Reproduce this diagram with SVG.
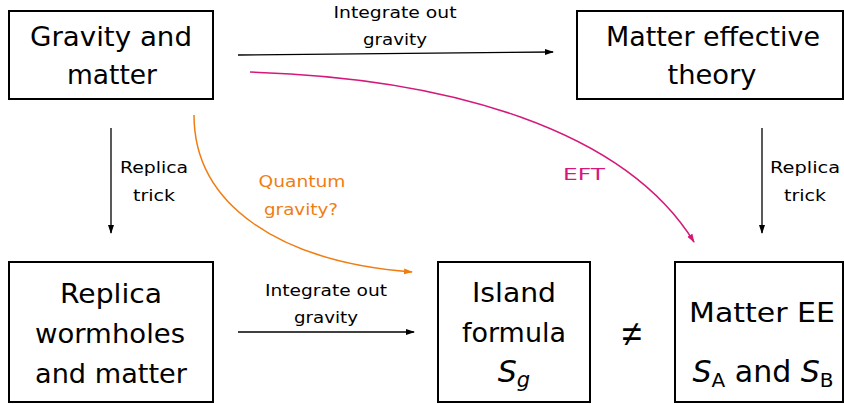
<svg xmlns="http://www.w3.org/2000/svg" width="844" height="404" viewBox="0 0 844 404" font-family="DejaVu Sans">
<style>
.box{fill:#fff;stroke:#000;stroke-width:2}
.big{fill:#000;text-anchor:middle}
.sm{fill:#000;text-anchor:middle}
.ln{fill:none;stroke:#000;stroke-width:1.3}
</style>
<defs>
<marker id="ab" markerWidth="10" markerHeight="8" refX="8" refY="4" orient="auto" markerUnits="userSpaceOnUse"><path d="M0,1 L9,4 L0,7 Z" fill="#000"/></marker>
<marker id="ao" markerWidth="10" markerHeight="8" refX="8" refY="4" orient="auto" markerUnits="userSpaceOnUse"><path d="M0,1 L9,4 L0,7 Z" fill="#f07d12"/></marker>
<marker id="ap" markerWidth="10" markerHeight="8" refX="8" refY="4" orient="auto" markerUnits="userSpaceOnUse"><path d="M0,1 L9,4 L0,7 Z" fill="#d5197a"/></marker>
</defs>
<g id="connectors" font-size="16">
<path class="ln" d="M238,55 L553,52" marker-end="url(#ab)"/>
<path class="ln" d="M111,128 L111,233" marker-end="url(#ab)"/>
<path class="ln" d="M762,128 L762,233" marker-end="url(#ab)"/>
<path class="ln" d="M238,332 L414,332" marker-end="url(#ab)"/>
<path d="M194,115 C194,205 280,262 412,272" fill="none" stroke="#f07d12" stroke-width="1.5" marker-end="url(#ao)"/>
<path d="M250,72 C450,78 625,130 694,242" fill="none" stroke="#d5197a" stroke-width="1.5" marker-end="url(#ap)"/>
<text class="sm" x="395" y="18" textLength="123" lengthAdjust="spacingAndGlyphs">Integrate out</text>
<text class="sm" x="395" y="45" textLength="64" lengthAdjust="spacingAndGlyphs">gravity</text>
<text class="sm" x="154" y="173" textLength="68" lengthAdjust="spacingAndGlyphs">Replica</text>
<text class="sm" x="154" y="201" textLength="42" lengthAdjust="spacingAndGlyphs">trick</text>
<text class="sm" x="805" y="173" textLength="70" lengthAdjust="spacingAndGlyphs">Replica</text>
<text class="sm" x="805" y="201" textLength="42" lengthAdjust="spacingAndGlyphs">trick</text>
<text class="sm" x="326" y="296" textLength="122" lengthAdjust="spacingAndGlyphs">Integrate out</text>
<text class="sm" x="326" y="323" textLength="64" lengthAdjust="spacingAndGlyphs">gravity</text>
<text class="sm" x="302" y="187" style="fill:#f07d12" textLength="87" lengthAdjust="spacingAndGlyphs">Quantum</text>
<text class="sm" x="301" y="215" style="fill:#f07d12" textLength="74" lengthAdjust="spacingAndGlyphs">gravity?</text>
<text class="sm" x="584" y="180" style="fill:#d5197a" textLength="42" lengthAdjust="spacingAndGlyphs">EFT</text>
</g>
<g id="n1" font-size="27">
<rect class="box" x="9" y="11" width="204" height="88"/>
<text class="big" x="111" y="46" textLength="162" lengthAdjust="spacingAndGlyphs">Gravity and</text>
<text class="big" x="112" y="84" textLength="90" lengthAdjust="spacingAndGlyphs">matter</text>
</g>
<g id="n2" font-size="27">
<rect class="box" x="577" y="11" width="266" height="88"/>
<text class="big" x="713" y="46" textLength="214" lengthAdjust="spacingAndGlyphs">Matter effective</text>
<text class="big" x="712" y="84" textLength="89" lengthAdjust="spacingAndGlyphs">theory</text>
</g>
<g id="n3" font-size="27">
<rect class="box" x="9" y="262" width="204" height="140"/>
<text class="big" x="111" y="303" textLength="102" lengthAdjust="spacingAndGlyphs">Replica</text>
<text class="big" x="110" y="343" textLength="150" lengthAdjust="spacingAndGlyphs">wormholes</text>
<text class="big" x="111" y="383" textLength="152" lengthAdjust="spacingAndGlyphs">and matter</text>
</g>
<g id="n4" font-size="27">
<rect class="box" x="438" y="262" width="152" height="140"/>
<text class="big" x="514" y="302" textLength="84" lengthAdjust="spacingAndGlyphs">Island</text>
<text class="big" x="514" y="342" textLength="104" lengthAdjust="spacingAndGlyphs">formula</text>
<text class="big" x="514" y="382" font-size="30"><tspan font-style="italic">S</tspan><tspan font-style="italic" font-size="21" dy="5">g</tspan></text>
</g>
<g id="n5" font-size="27">
<rect class="box" x="675" y="262" width="168" height="140"/>
<text class="big" x="762" y="322" textLength="146" lengthAdjust="spacingAndGlyphs">Matter EE</text>
<text class="big" x="763" y="382" font-size="30"><tspan font-style="italic">S</tspan><tspan font-size="20" dy="5">A</tspan><tspan dy="-5"> and </tspan><tspan font-style="italic">S</tspan><tspan font-size="20" dy="5">B</tspan></text>
</g>
<text id="neq" class="big" x="632" y="346" font-size="36" font-family="Liberation Sans">≠</text>
</svg>
